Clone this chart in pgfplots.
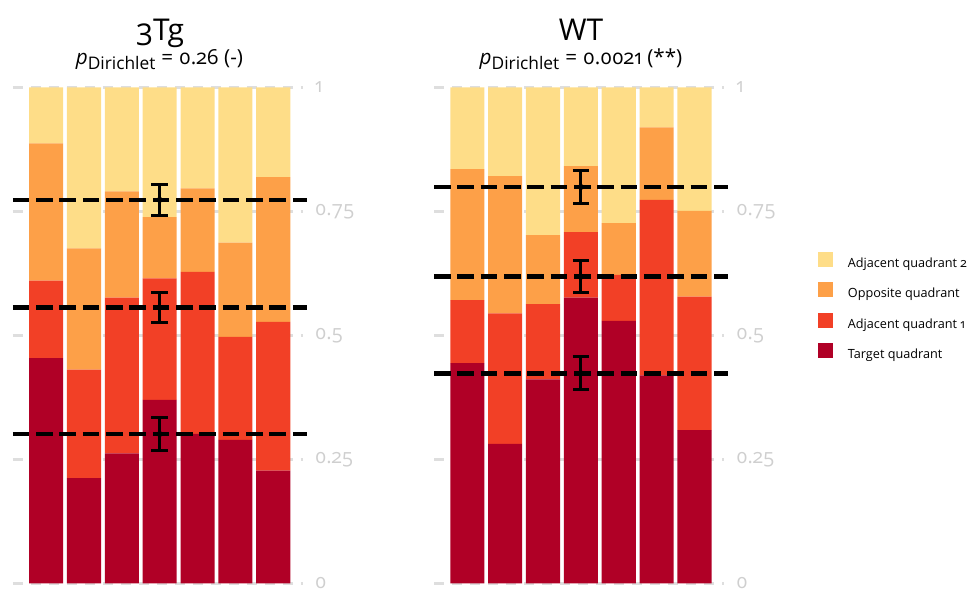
\documentclass[border=0pt]{standalone}
\usepackage{pgfplots}
\pgfplotsset{compat=1.18}
\usepackage{fontspec}
\setmainfont{Open Sans}[Numbers=OldStyle]
\definecolor{cA2}{HTML}{FEDD88}
\definecolor{cOpp}{HTML}{FDA048}
\definecolor{cA1}{HTML}{F24026}
\definecolor{cT}{HTML}{B00026}
\definecolor{tickgray}{HTML}{CFCFCF}
\definecolor{gridgray}{HTML}{DEDEDE}

\pgfplotsset{
 panel/.style={scale only axis, width=217.5pt, height=372pt, xmin=0.12, xmax=7.78, ymin=0, ymax=1, anchor=south west},
 barpanel/.style={panel, ybar stacked, bar width=0.9, axis line style={draw=none}, xtick=\empty,
   ytick={0,0.25,0.5,0.75,1}, yticklabels={0,0.25,0.5,0.75,1}, yticklabel pos=right, major tick length=0pt,
   ymajorgrids, grid style={gridgray, line width=2.2pt, dash pattern=on 7.5pt off 6pt},
   yticklabel style={anchor=west, xshift=9pt, inner sep=0pt, text=tickgray, font=\fontsize{15}{17}\selectfont},
   /pgf/number format/assume math mode=true,
   every axis plot post/.append style={draw=none, legend image code/.code={\fill[##1] (0pt,-2.4pt) rectangle (11.25pt,8.85pt);}}},
 linepanel/.style={panel, hide axis, clip=false},
 meanline/.style={black, line width=3.5pt, dash pattern=on 12.5pt off 5pt, forget plot},
 ebar/.style={only marks, mark=none, forget plot, error bars/.cd, y dir=both, y explicit,
   error bar style={black, line width=2.4pt, solid},
   error mark options={rotate=90, black, mark size=6.25pt, line width=2.4pt}}
}

\begin{document}
\begin{tikzpicture}
\useasboundingbox (0,0) rectangle (729pt,441.75pt);

% ---------------- 3Tg ----------------
\begin{axis}[barpanel, at={(9.6pt,4.275pt)}]
\addplot[fill=cT] coordinates {(1,0.454) (2,0.212) (3,0.262) (4,0.370) (5,0.301) (6,0.289) (7,0.227)};
\addplot[fill=cA1] coordinates {(1,0.156) (2,0.219) (3,0.314) (4,0.245) (5,0.327) (6,0.208) (7,0.300)};
\addplot[fill=cOpp] coordinates {(1,0.277) (2,0.244) (3,0.214) (4,0.123) (5,0.168) (6,0.190) (7,0.292)};
\addplot[fill=cA2] coordinates {(1,0.113) (2,0.325) (3,0.210) (4,0.262) (5,0.204) (6,0.313) (7,0.181)};
\end{axis}
\begin{axis}[linepanel, at={(9.6pt,4.275pt)}]
\addplot[meanline] coordinates {(0.12,0.773) (7.88,0.773)};
\addplot[meanline] coordinates {(0.12,0.556) (7.88,0.556)};
\addplot[meanline] coordinates {(0.12,0.301) (7.88,0.301)};
\addplot[ebar] coordinates {(4,0.773) +- (0,0.031) (4,0.556) +- (0,0.030) (4,0.301) +- (0,0.034)};
\end{axis}

% ---------------- WT ----------------
\begin{axis}[barpanel, at={(325.5pt,4.275pt)}, reverse legend, legend cell align=left,
  legend style={at={(1.324,0.668)}, anchor=north west, draw=none, fill=none, inner sep=0pt, row sep=9.4pt,
    font=\fontsize{9.5}{11}\selectfont, nodes={inner sep=0pt},
    /tikz/every odd column/.append style={column sep=11pt}}]
\addplot[fill=cT] coordinates {(1,0.444) (2,0.281) (3,0.411) (4,0.576) (5,0.529) (6,0.419) (7,0.309)};
\addplot[fill=cA1] coordinates {(1,0.127) (2,0.263) (3,0.152) (4,0.132) (5,0.093) (6,0.354) (7,0.269)};
\addplot[fill=cOpp] coordinates {(1,0.264) (2,0.277) (3,0.139) (4,0.133) (5,0.104) (6,0.146) (7,0.173)};
\addplot[fill=cA2] coordinates {(1,0.165) (2,0.179) (3,0.298) (4,0.159) (5,0.274) (6,0.081) (7,0.249)};
\legend{Target quadrant, Adjacent quadrant 1, Opposite quadrant, Adjacent quadrant 2}
\end{axis}
\begin{axis}[linepanel, at={(325.5pt,4.275pt)}]
\addplot[meanline] coordinates {(0.12,0.799) (7.88,0.799)};
\addplot[meanline] coordinates {(0.12,0.618) (7.88,0.618)};
\addplot[meanline] coordinates {(0.12,0.4235) (7.88,0.4235)};
\addplot[ebar] coordinates {(4,0.799) +- (0,0.034) (4,0.618) +- (0,0.032) (4,0.4235) +- (0,0.0335)};
\end{axis}

% titles
\node[anchor=base, font=\fontsize{22.5}{26}\selectfont] at (120pt,411pt) {3Tg};
\node[anchor=base, font=\fontsize{15.5}{18}\selectfont] at (119.6pt,393pt)
  {{\itshape p}\raisebox{-3.2pt}{\fontsize{13}{15}\selectfont Dirichlet}\hspace{4.5pt}=\hspace{4.5pt}0.26 (-)};
\node[anchor=base, font=\fontsize{22.5}{26}\selectfont] at (435.75pt,411pt) {WT};
\node[anchor=base, font=\fontsize{15.5}{18}\selectfont] at (435.75pt,393pt)
  {{\itshape p}\raisebox{-3.2pt}{\fontsize{13}{15}\selectfont Dirichlet}\hspace{4.5pt}=\hspace{4.5pt}0.0021 (**)};
\end{tikzpicture}
\end{document}
